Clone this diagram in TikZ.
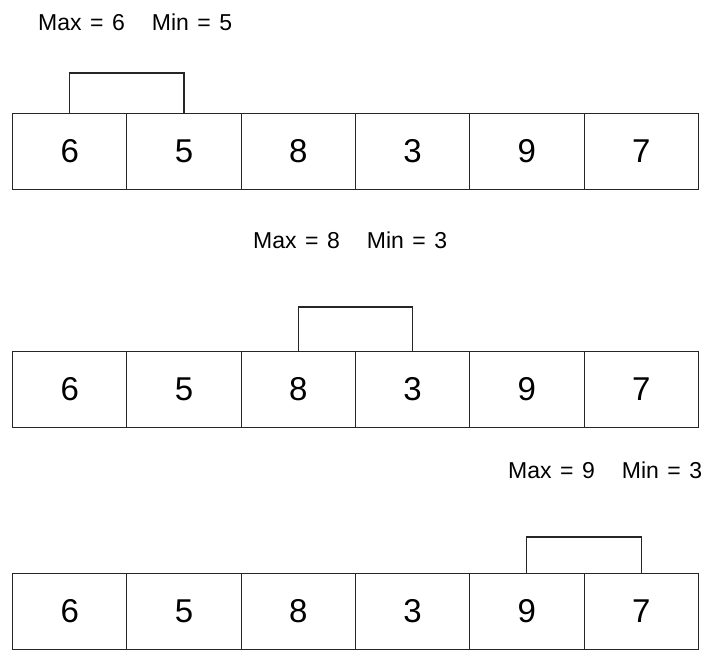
\documentclass[tikz,border=0pt]{standalone}
\usepackage{fontspec}
\setmainfont{Liberation Sans}
\newcommand{\mxmn}[2]{Max\hspace{8.5pt}=\hspace{8.5pt}#1\hspace{27pt}Min\hspace{8.5pt}=\hspace{8.5pt}#2}
\begin{document}
\begin{tikzpicture}[x=1pt,y=-1pt,
  cellbox/.style={draw=black!85,line width=1.1pt,minimum width=114.3pt,minimum height=76pt,inner sep=0pt,anchor=north west,font=\fontsize{33}{33}\selectfont},
  lbl/.style={anchor=west,inner sep=0pt,font=\fontsize{23}{23}\selectfont},
  brk/.style={draw=black!85,line width=1.1pt}]
\useasboundingbox (0,0) rectangle (711,649);
\fill[white] (0,0) rectangle (711,649);
% labels
\node[lbl] (t1) at (38,22) {\mxmn{6}{5}};
\node[lbl] (t2) at (253,240.5) {\mxmn{8}{3}};
\node[lbl] (t3) at (508,470) {\mxmn{9}{3}};
% arrays
\foreach \r/\yy in {1/113,2/351,3/573}{
  \foreach \v [count=\i from 0] in {6,5,8,3,9,7}{
    \node[cellbox] (c\r\i) at ({12+114.3*\i},\yy) {\v};
  }
}
% brackets
\draw[brk] (c10.north) -- ++(0,-40) -| (c11.north);
\draw[brk] (c22.north) -- ++(0,-44) -| (c23.north);
\draw[brk] (c34.north) -- ++(0,-36) -| (c35.north);
\end{tikzpicture}
\end{document}
